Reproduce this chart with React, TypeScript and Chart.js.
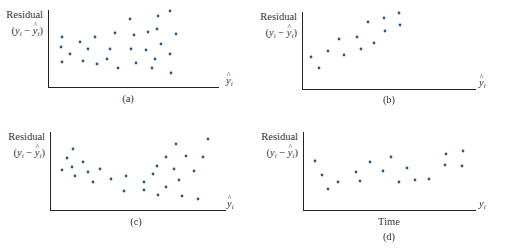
import React, { useEffect, useRef } from "react";
import { Chart, registerables } from "chart.js";

Chart.register(...registerables);

// Panel (a): residuals vs fitted values, no pattern (units = offset from axes)
const aX = [14, 13, 14, 22, 32, 35, 40, 47, 49, 59, 62, 67, 70, 82, 83, 86, 88, 98, 100, 104, 107, 109, 110, 113, 122, 122, 123, 128];
const aY = [50, 40, 25, 33, 45, 26, 38, 50, 23, 28, 38, 54, 19, 68, 38, 52, 24, 37, 55, 19, 28, 58, 71, 43, 76, 33, 14, 53];

// Panel (b): residuals increasing with fitted values
const bX = [9, 17, 26, 37, 42, 55, 59, 66, 72, 82, 83, 97, 98];
const bY = [32, 21, 38, 50, 34, 52, 40, 67, 46, 71, 58, 76, 64];

// Panel (c): curved (U-shaped) pattern, widening spread
const cX = [12, 17, 23, 22, 25, 33, 38, 43, 50, 61, 74, 76, 94, 94, 103, 107, 108, 116, 116, 124, 126, 129, 132, 136, 144, 148, 153, 158];
const cY = [40, 52, 61, 43, 34, 48, 38, 28, 41, 31, 19, 34, 28, 20, 36, 44, 15, 53, 23, 41, 66, 30, 14, 54, 39, 11, 53, 71];

// Panel (d): residuals vs time
const dX = [12, 19, 25, 35, 53, 57, 67, 80, 88, 96, 104, 112, 126, 142, 143, 159, 160];
const dY = [49, 35, 21, 28, 38, 29, 48, 39, 53, 28, 42, 30, 31, 45, 56, 44, 59];

// Axis boxes in page pixels: [axisLeft, axisTop, axisRight, axisBottom]
const boxA = [48, 10, 218, 87];
const boxB = [302, 12, 475, 89];
const boxC = [50, 132, 225, 210];
const boxD = [303, 132, 475, 210];

const DOT = "#2c5a8c";
const AXIS = "#222222";
const TEXT = "#333333";
const FONT = "'Liberation Serif', 'DejaVu Serif', serif";

function ScatterPanel({ box, xs, ys }: { box: number[]; xs: number[]; ys: number[] }) {
  const ref = useRef<HTMLCanvasElement>(null);
  const pad = 4;
  const w = box[2] - box[0];
  const h = box[3] - box[1];
  useEffect(() => {
    const chart = new Chart(ref.current!, {
      type: "scatter",
      data: {
        datasets: [
          {
            data: xs.map((x, i) => ({ x, y: ys[i] })),
            backgroundColor: DOT,
            borderColor: DOT,
            pointRadius: 1.4,
            pointBorderWidth: 0,
            clip: false as any,
          },
        ],
      },
      options: {
        responsive: false,
        maintainAspectRatio: false,
        animation: false,
        events: [],
        layout: { padding: pad },
        plugins: { legend: { display: false }, tooltip: { enabled: false } },
        scales: {
          x: {
            type: "linear",
            min: 0,
            max: w,
            ticks: { display: false },
            grid: { display: false, drawTicks: false },
            border: { display: true, color: AXIS, width: 1 },
          },
          y: {
            type: "linear",
            min: 0,
            max: h,
            ticks: { display: false },
            grid: { display: false, drawTicks: false },
            border: { display: true, color: AXIS, width: 1 },
          },
        },
      },
    });
    return () => chart.destroy();
  }, []);
  return (
    <canvas
      ref={ref}
      width={w + 2 * pad}
      height={h + 2 * pad}
      style={{ position: "absolute", left: box[0] - pad, top: box[1] - pad, width: w + 2 * pad, height: h + 2 * pad }}
    />
  );
}

function Hat({ children }: { children: React.ReactNode }) {
  return (
    <span style={{ position: "relative", display: "inline-block" }}>
      {children}
      <span
        style={{
          position: "absolute",
          left: "50%",
          top: "-0.62em",
          transform: "translateX(-45%)",
          fontSize: "0.75em",
          fontStyle: "normal",
        }}
      >
        ^
      </span>
    </span>
  );
}

const Sub = () => (
  <span style={{ fontSize: "0.68em", position: "relative", top: "0.3em", fontStyle: "italic" }}>i</span>
);

function YLabel({ box }: { box: number[] }) {
  const right = 511 - (box[0] - 5);
  return (
    <div
      style={{
        position: "absolute",
        right,
        top: box[1] - 3,
        textAlign: "right",
        fontFamily: FONT,
        fontSize: 10.5,
        color: TEXT,
        lineHeight: "16px",
        whiteSpace: "nowrap",
      }}
    >
      <div>Residual</div>
      <div>
        (<i>y</i>
        <Sub /> − <Hat><i>y</i></Hat>
        <Sub />)
      </div>
    </div>
  );
}

function XLabel({ box, hat, dx }: { box: number[]; hat: boolean; dx: number }) {
  return (
    <div
      style={{
        position: "absolute",
        left: box[2] + dx,
        top: box[3] - 12,
        fontFamily: FONT,
        fontSize: 10.5,
        color: TEXT,
        lineHeight: "12px",
        whiteSpace: "nowrap",
      }}
    >
      {hat ? <Hat><i>y</i></Hat> : <i>y</i>}
      <Sub />
    </div>
  );
}

function Caption({ cx, cy, text }: { cx: number; cy: number; text: string }) {
  return (
    <div
      style={{
        position: "absolute",
        left: cx - 30,
        width: 60,
        top: cy - 7,
        textAlign: "center",
        fontFamily: FONT,
        fontSize: 10.5,
        color: TEXT,
        lineHeight: "14px",
      }}
    >
      {text}
    </div>
  );
}

export default function App() {
  return (
    <div
      style={{
        position: "absolute",
        left: 0,
        top: 0,
        width: 511,
        height: 248,
        background: "#ffffff",
        overflow: "hidden",
      }}
    >
      <ScatterPanel box={boxA} xs={aX} ys={aY} />
      <ScatterPanel box={boxB} xs={bX} ys={bY} />
      <ScatterPanel box={boxC} xs={cX} ys={cY} />
      <ScatterPanel box={boxD} xs={dX} ys={dY} />

      <YLabel box={boxA} />
      <YLabel box={boxB} />
      <YLabel box={boxC} />
      <YLabel box={boxD} />

      <XLabel box={boxA} hat={true} dx={8} />
      <XLabel box={boxB} hat={true} dx={4} />
      <XLabel box={boxC} hat={true} dx={2} />
      <XLabel box={boxD} hat={false} dx={4} />

      <Caption cx={128} cy={99} text="(a)" />
      <Caption cx={389} cy={100} text="(b)" />
      <Caption cx={136} cy={222} text="(c)" />
      <Caption cx={389} cy={222} text="Time" />
      <Caption cx={389} cy={237} text="(d)" />
    </div>
  );
}
